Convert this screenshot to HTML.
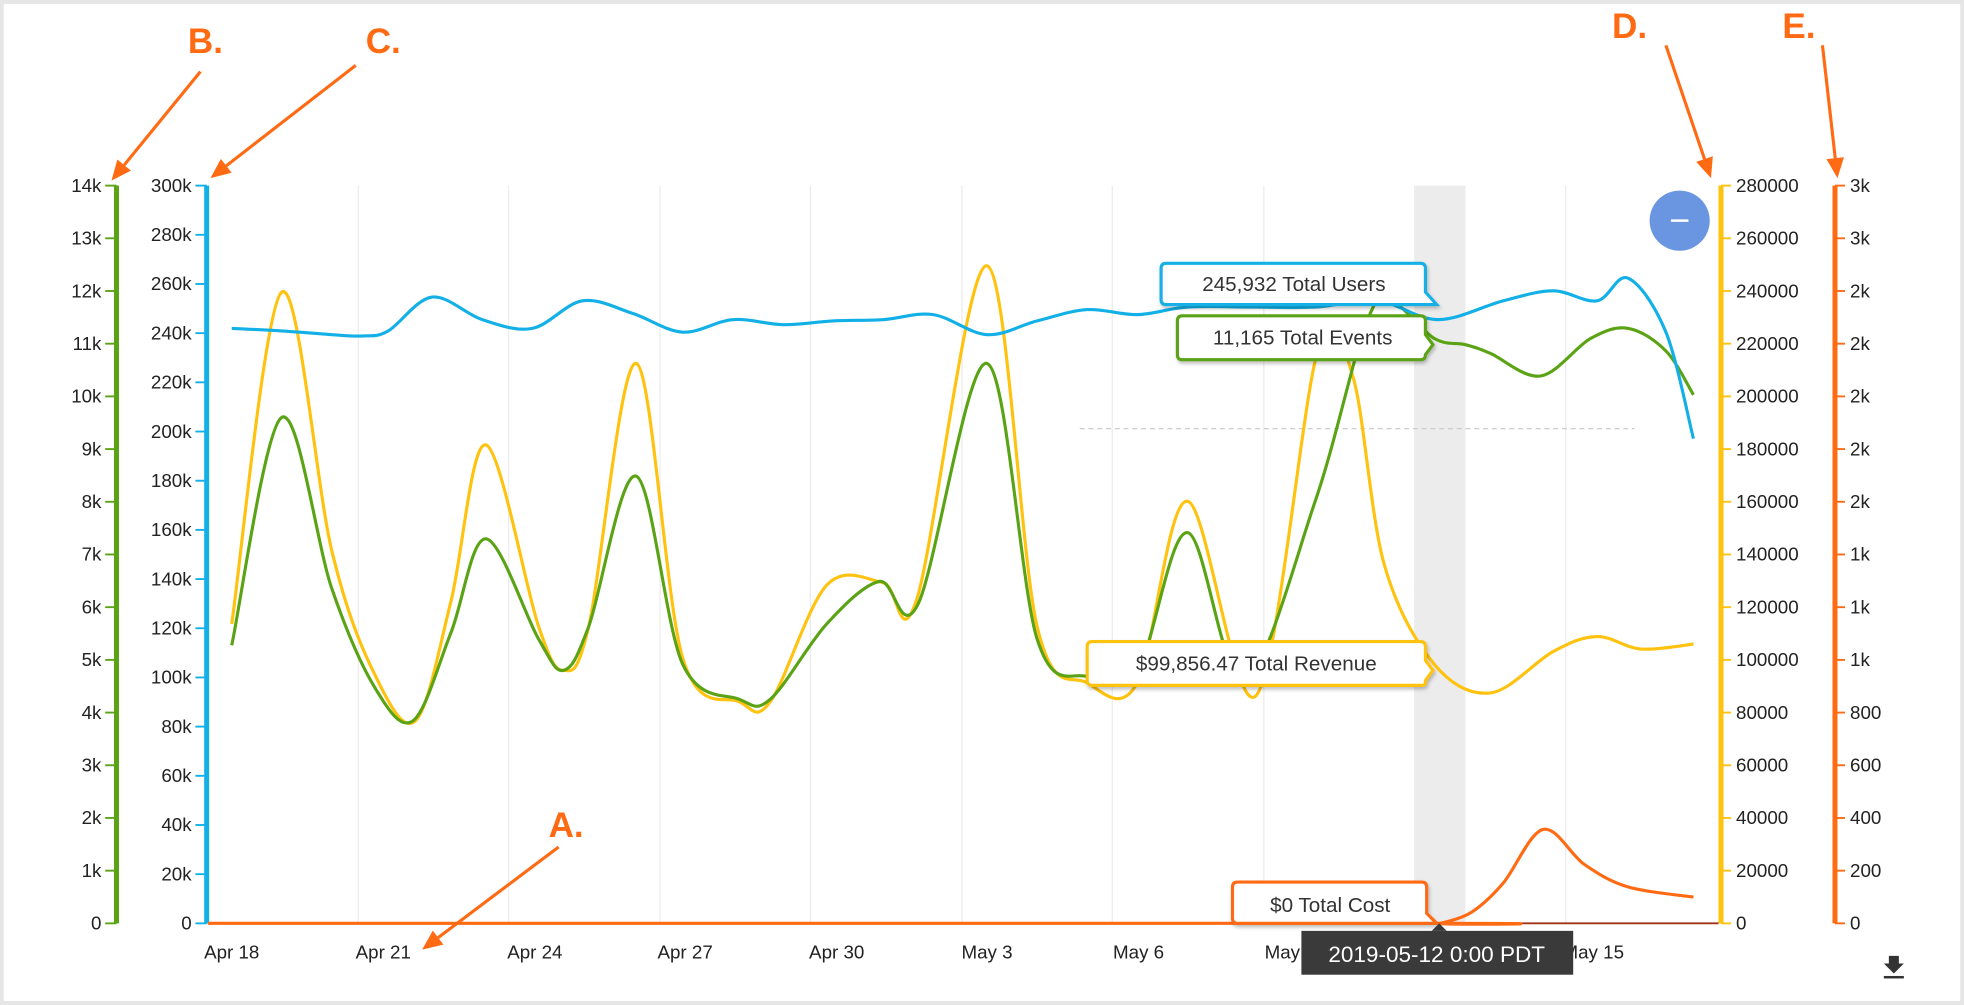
<!DOCTYPE html>
<html><head><meta charset="utf-8"><style>
html,body{margin:0;padding:0;background:#fff}
svg{display:block}
text{font-family:"Liberation Sans",sans-serif}
</style></head><body>
<svg id="s" width="1964" height="1005" viewBox="0 0 1568 802" xmlns="http://www.w3.org/2000/svg">
<defs><filter id="sh" x="-10%" y="-20%" width="130%" height="160%"><feDropShadow dx="1" dy="2" stdDeviation="1.5" flood-color="#000" flood-opacity="0.25"/></filter></defs>
<rect x="0" y="0" width="1568" height="802" fill="#fff" stroke="#e6e6e6" stroke-width="6"/>
<rect x="1129" y="148" width="41" height="589" fill="#ececec"/>
<g stroke="#ececec" stroke-width="1">
<line x1="286" y1="148" x2="286" y2="737"/><line x1="406" y1="148" x2="406" y2="737"/>
<line x1="527" y1="148" x2="527" y2="737"/><line x1="647" y1="148" x2="647" y2="737"/>
<line x1="768" y1="148" x2="768" y2="737"/><line x1="888" y1="148" x2="888" y2="737"/>
<line x1="1009" y1="148" x2="1009" y2="737"/><line x1="1250" y1="148" x2="1250" y2="737"/>
</g>
<line x1="862" y1="342" x2="1305" y2="342" stroke="#ccc" stroke-dasharray="4,3"/>
<line x1="166" y1="737" x2="1372" y2="737" stroke="#a3321a" stroke-width="1.5"/>
<g id="ax" font-size="15" fill="#222"></g>
<g id="series" fill="none" stroke-width="2.5"></g>
<circle cx="1341" cy="176" r="24" fill="#6a95e0"/>
<line x1="1334" y1="176" x2="1348" y2="176" stroke="#fff" stroke-width="2"/>
<g font-size="16.5" fill="#333">
<path d="M931,210 h203 q4,0 4,4 v19 l9,10 -9,0 h-207 q-4,0 -4,-4 v-25 q0,-4 4,-4 z" fill="#fff" stroke="#12b0e6" stroke-width="2.5" filter="url(#sh)"/>
<text x="1033" y="232" text-anchor="middle">245,932 Total Users</text>
<path d="M944,252 h190 q4,0 4,4 v11 l6,8 -6,8 v0 q0,4 -4,4 h-190 q-4,0 -4,-4 v-27 q0,-4 4,-4 z" fill="#fff" stroke="#5aa314" stroke-width="2.5" filter="url(#sh)"/>
<text x="1040" y="275" text-anchor="middle">11,165 Total Events</text>
<path d="M872,512 h262 q4,0 4,4 v11 l6,8 -6,8 v2 q0,2 -4,2 h-262 q-4,0 -4,-4 v-27 q0,-4 4,-4 z" fill="#fff" stroke="#ffc20e" stroke-width="2.5" filter="url(#sh)"/>
<text x="1003" y="535" text-anchor="middle">$99,856.47 Total Revenue</text>
<path d="M988,704 h147 q4,0 4,4 v21 l8,8 -8,0 h-151 q-4,0 -4,-4 v-25 q0,-4 4,-4 z" fill="#fff" stroke="#ff6a13" stroke-width="2.5" filter="url(#sh)"/>
<text x="1062" y="728" text-anchor="middle">$0 Total Cost</text>
</g>
<rect x="1039" y="743" width="217" height="35" fill="#3a3a3a"/>
<path d="M1143,743 l6,-6 6,6z" fill="#3a3a3a"/>
<text x="1147" y="768" font-size="18" fill="#fff" text-anchor="middle">2019-05-12 0:00 PDT</text>
<path d="M1508,763 h8 v6 h4 l-8,8 -8,-8 h4z" fill="#333"/>
<rect x="1504" y="779" width="16" height="2" fill="#333"/>
<g fill="#ff6a13" font-size="28" font-weight="bold">
<text x="150" y="42">B.</text><text x="292" y="42">C.</text>
<text x="1287" y="30">D.</text><text x="1423" y="30">E.</text><text x="438" y="668">A.</text>
</g>
<g stroke="#ff6a13" stroke-width="2.5" fill="#ff6a13" id="arr"></g>
</svg>
<script>
const NS="http://www.w3.org/2000/svg";
function el(p,t,a,txt){const e=document.createElementNS(NS,t);for(const k in a)e.setAttribute(k,a[k]);if(txt!==undefined)e.textContent=txt;p.appendChild(e);return e;}
const ax=document.getElementById('ax');
function axis(x,col,labels,side){
  el(ax,'line',{x1:x,y1:148,x2:x,y2:737,stroke:col,'stroke-width':4});
  const n=labels.length-1;
  labels.forEach((l,i)=>{const y=148+i*(589/n);
    if(side<0){el(ax,'line',{x1:x-9,y1:y,x2:x,y2:y,stroke:col,'stroke-width':1.5});el(ax,'text',{x:x-12,y:y+5,'text-anchor':'end'},l);}
    else{el(ax,'line',{x1:x,y1:y,x2:x+8,y2:y,stroke:col,'stroke-width':1.5});el(ax,'text',{x:x+12,y:y+5},l);}
  });
}
axis(93,'#5aa314',['14k','13k','12k','11k','10k','9k','8k','7k','6k','5k','4k','3k','2k','1k','0'],-1);
let b=[];for(let v=300;v>=0;v-=20)b.push(v+'k');b[b.length-1]='0';axis(165,'#12b0e6',b,-1);
let d=[];for(let v=280000;v>=0;v-=20000)d.push(''+v);axis(1374,'#ffc20e',d,1);
axis(1465,'#ff6a13',['3k','3k','2k','2k','2k','2k','2k','1k','1k','1k','800','600','400','200','0'],1);
const xl=[['Apr 18',185],['Apr 21',306],['Apr 24',427],['Apr 27',547],['Apr 30',668],['May 3',788],['May 6',909],['May 9',1030],['May 12',1150],['May 15',1272]];
xl.forEach(([t,x])=>el(ax,'text',{x:x,y:765,'text-anchor':'middle'},t));
function cr(pts){let s='M'+pts[0][0]+','+pts[0][1];
 for(let i=0;i<pts.length-1;i++){const p0=pts[i-1]||pts[i],p1=pts[i],p2=pts[i+1],p3=pts[i+2]||p2;
  const c1=[p1[0]+(p2[0]-p0[0])/6,p1[1]+(p2[1]-p0[1])/6],c2=[p2[0]-(p3[0]-p1[0])/6,p2[1]-(p3[1]-p1[1])/6];
  s+=` C${c1[0].toFixed(1)},${c1[1].toFixed(1)} ${c2[0].toFixed(1)},${c2[1].toFixed(1)} ${p2[0]},${p2[1]}`;}
 return s;}
const g=document.getElementById('series');
const cost=[[166,737],[1140,737],[1150,737],[1175,728],[1200,705],[1232,662],[1265,690],[1300,708],[1352,716]];
const rev=[[185,498],[225,233],[265,440],[300,540],[332,575],[360,480],[388,355],[430,500],[450,535],[470,500],[508,290],[545,525],[590,560],[615,560],[660,467],[705,465],[732,478],[788,212],[828,500],[868,545],[908,545],[948,400],[1003,555],[1052,280],[1080,300],[1105,450],[1145,530],[1190,553],[1240,520],[1275,508],[1310,518],[1352,514]];
const ev=[[185,515],[225,333],[265,470],[300,550],[330,575],[360,505],[388,430],[430,510],[450,535],[470,500],[508,380],[545,530],[590,558],[615,558],[660,498],[702,464],[733,482],[788,290],[828,510],[868,540],[908,535],[948,425],[993,543],[1050,400],[1090,260],[1110,240],[1145,270],[1170,275],[1190,282],[1230,300],[1270,270],[1300,262],[1330,280],[1352,315]];
const us=[[185,262],[225,264],[265,267],[290,268],[310,264],[345,237],[385,255],[425,262],[465,240],[505,250],[545,265],[585,255],[625,259],[665,256],[705,255],[745,251],[788,267],[828,256],[868,247],[908,251],[948,245],[1000,245],[1050,245],[1100,240],[1148,255],[1200,240],[1240,232],[1275,240],[1300,222],[1330,265],[1352,350]];
el(g,'path',{d:cr(cost),stroke:'#ff6a13'});
el(g,'path',{d:cr(rev),stroke:'#ffc20e'});
el(g,'path',{d:cr(ev),stroke:'#5aa314'});
el(g,'path',{d:cr(us),stroke:'#12b0e6'});
const ar=document.getElementById('arr');
function arrow(x1,y1,x2,y2){const a=Math.atan2(y2-y1,x2-x1),L=16,W=7;
 const bx=x2-L*Math.cos(a),by=y2-L*Math.sin(a);
 el(ar,'line',{x1:x1,y1:y1,x2:bx,y2:by});
 el(ar,'polygon',{points:`${x2},${y2} ${bx+W*Math.sin(a)},${by-W*Math.cos(a)} ${bx-W*Math.sin(a)},${by+W*Math.cos(a)}`,stroke:'none'});}
arrow(160,57,89,144);arrow(284,52,168,142);arrow(1330,36,1366,142);arrow(1455,36,1467,142);arrow(446,676,337,758);
</script>
</body></html>
